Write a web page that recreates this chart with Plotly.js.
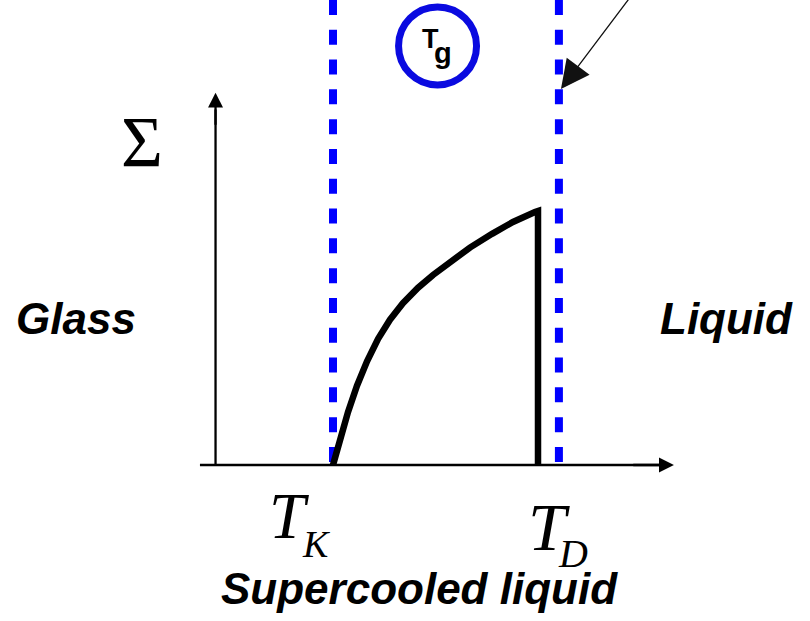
<!DOCTYPE html>
<html><head><meta charset="utf-8">
<script src="https://cdn.plot.ly/plotly-3.0.1.min.js"></script>
<style>html,body{margin:0;padding:0;background:#fff}#chart{width:810px;height:621px}</style>
</head><body><div id="chart"></div>
<script>
// Configurational entropy Sigma(T): T_K = 1, T_D = 2 (arbitrary units)
const curveT = [1.000, 1.034, 1.073, 1.117, 1.166, 1.220, 1.278, 1.341, 1.415, 1.488, 1.571, 1.668, 1.776, 1.878, 1.985, 2.000, 2.000];
const curveS = [0.000, 0.102, 0.208, 0.312, 0.408, 0.497, 0.572, 0.637, 0.698, 0.748, 0.801, 0.856, 0.910, 0.957, 0.996, 1.000, 0.000];

// dashed vertical lines (T_K and the crossover near T_D)
const dashLeftT = [1.000, 1.000];
const dashRightT = [2.102, 2.102];
const dashS = [0.012, 1.910];

// drawn axes
const xAxisT = [0.351, 2.600];
const xAxisS = [0.000, 0.000];
const xArrowTip = [2.663, 0.000];
const yAxisT = [0.427, 0.427];
const yAxisS = [0.000, 1.400];
const yArrowTip = [0.427, 1.466];

// T_g circle marker and pointer arrow (tail, tip)
const tgCircleT = [1.510];
const tgCircleS = [1.650];
const pointerT = [2.490, 2.112];
const pointerS = [1.885, 1.480];

// labels
const labelGlass = 'Glass';
const labelLiquid = 'Liquid';
const labelSuper = 'Supercooled liquid';
const labelSigma = '\u03A3';

const blue = '#0000ff';
const traces = [
  {x: dashLeftT, y: dashS, mode: 'lines', line: {color: blue, width: 8, dash: '15px,14.8px'}, hoverinfo: 'skip'},
  {x: dashRightT, y: dashS, mode: 'lines', line: {color: blue, width: 8, dash: '15px,14.8px'}, hoverinfo: 'skip'},
  {x: curveT, y: curveS, mode: 'lines', line: {color: '#000', width: 6.5}, hoverinfo: 'skip'},
  {x: xAxisT, y: xAxisS, mode: 'lines', line: {color: '#000', width: 2.3}, hoverinfo: 'skip'},
  {x: yAxisT, y: yAxisS, mode: 'lines', line: {color: '#000', width: 2.3}, hoverinfo: 'skip'},
  {x: tgCircleT, y: tgCircleS, mode: 'markers', marker: {symbol: 'circle', size: 78, color: '#fff', line: {color: '#0a0ae0', width: 7}}, hoverinfo: 'skip'}
];

const W = 810, H = 621;
function px(x){return x / W;}
function py(y){return 1 - y / H;}
const sans = 'Liberation Sans, Arial, sans-serif';
const serif = 'Liberation Serif, Times New Roman, serif';
function lab(text, x, y, size, family, weight, style){
  return {text: text, xref: 'paper', yref: 'paper', x: px(x), y: py(y), xanchor: 'center', yanchor: 'middle',
    showarrow: false, font: {family: family, size: size, color: '#000', weight: weight, style: style}};
}
const annotations = [
  {x: xArrowTip[0], y: xArrowTip[1], ax: 2.45, ay: 0, xref: 'x', yref: 'y', axref: 'x', ayref: 'y', text: ' ',
   showarrow: true, arrowhead: 2, arrowsize: 1.3, arrowwidth: 2.3, arrowcolor: '#000', standoff: 0},
  {x: yArrowTip[0], y: yArrowTip[1], ax: 0.427, ay: 1.30, xref: 'x', yref: 'y', axref: 'x', ayref: 'y', text: ' ',
   showarrow: true, arrowhead: 2, arrowsize: 1.3, arrowwidth: 2.3, arrowcolor: '#000', standoff: 0},
  {x: pointerT[1], y: pointerS[1], ax: pointerT[0], ay: pointerS[0], xref: 'x', yref: 'y', axref: 'x', ayref: 'y', text: ' ',
   showarrow: true, arrowhead: 2, arrowsize: 4.4, arrowwidth: 1.3, arrowcolor: '#111', standoff: 0},
  lab(labelSigma, 142, 142, 72, serif, 'normal', 'normal'),
  lab(labelGlass, 76, 318, 44, sans, 'bold', 'italic'),
  lab(labelLiquid, 726, 318, 44, sans, 'bold', 'italic'),
  lab(labelSuper, 419, 588, 44, sans, 'bold', 'italic'),
  lab('T', 289, 516, 65, serif, 'normal', 'italic'),
  lab('K', 316, 544, 38, serif, 'normal', 'italic'),
  lab('T', 549, 527, 68, serif, 'normal', 'italic'),
  lab('D', 573, 553, 40, serif, 'normal', 'italic'),
  lab('T', 430, 39, 27, sans, 'bold', 'normal'),
  lab('g', 443, 53, 29, sans, 'bold', 'normal')
];

const layout = {
  width: W, height: H, margin: {l: 0, r: 0, t: 0, b: 0, pad: 0},
  paper_bgcolor: '#fff', plot_bgcolor: '#fff', showlegend: false,
  xaxis: {range: [-0.6244, 3.3268], visible: false, fixedrange: true},
  yaxis: {range: [-0.6142, 1.8307], visible: false, fixedrange: true},
  annotations: annotations
};
Plotly.newPlot('chart', traces, layout, {staticPlot: true, displayModeBar: false});
</script>
</body></html>
